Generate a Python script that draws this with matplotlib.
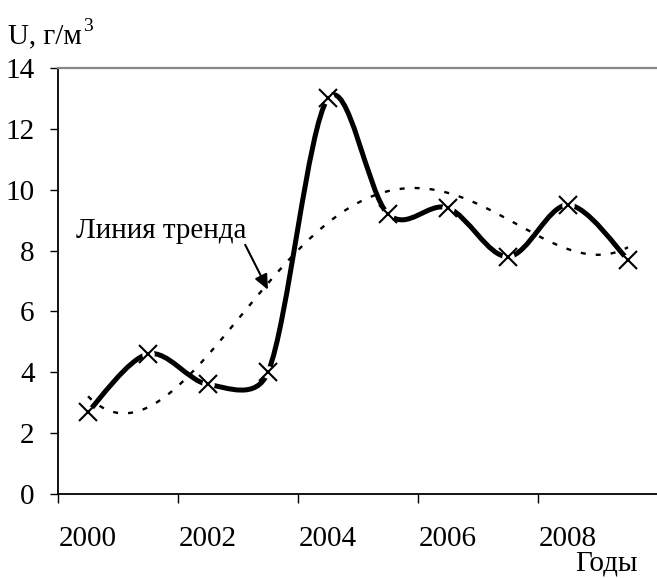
import numpy as np
import matplotlib
matplotlib.use("Agg")
import matplotlib.pyplot as plt
from matplotlib.path import Path
from matplotlib.patches import PathPatch

years = ["2000", "2001", "2002", "2003", "2004", "2005", "2006", "2007", "2008", "2009"]
values = [2.7, 4.6, 3.6, 4.0, 13.0, 9.2, 9.4, 7.8, 9.5, 7.7]
trend_degree = 4
y_ticks = [0, 2, 4, 6, 8, 10, 12, 14]
label_years = ["2000", "2002", "2004", "2006", "2008"]

plt.rcParams['font.family'] = ['Liberation Serif', 'DejaVu Serif']
plt.rcParams['lines.scale_dashes'] = False

W, H = 657, 578
fig = plt.figure(figsize=(W / 100, H / 100), dpi=100)
ax = fig.add_axes([58 / W, (H - 494) / H, 600 / W, 426 / H])
ax.set_xlim(0.5, 10.5)
ax.set_ylim(0, 14)

x = np.arange(1, len(values) + 1, dtype=float)
y = np.array(values)

# Excel-like smoothed line: cubic Bezier with tension 1/6, limited in pixel space
P = np.column_stack([x, y])
Pd = ax.transData.transform(P)
n = len(P)
verts = [tuple(P[0])]
codes = [Path.MOVETO]
for i in range(n - 1):
    i0, i1, i2, i3 = max(i - 1, 0), i, i + 1, min(i + 2, n - 1)
    d02 = np.linalg.norm(Pd[i2] - Pd[i0])
    d12 = np.linalg.norm(Pd[i2] - Pd[i1])
    d13 = np.linalg.norm(Pd[i3] - Pd[i1])
    f1 = 1 / 6 if d02 == 0 else min(1 / 6, d12 / (2 * d02))
    f2 = 1 / 6 if d13 == 0 else min(1 / 6, d12 / (2 * d13))
    c1 = P[i1] + (P[i2] - P[i0]) * f1
    c2 = P[i2] - (P[i3] - P[i1]) * f2
    verts += [tuple(c1), tuple(c2), tuple(P[i2])]
    codes += [Path.CURVE4] * 3
ax.add_patch(PathPatch(Path(verts, codes), fill=False, lw=3.6, color='black',
                       capstyle='butt', joinstyle='round', zorder=3))

# polynomial trend line
xs = np.linspace(1, 10, 300)
coef = np.polyfit(x, y, trend_degree)
ax.plot(xs, np.polyval(coef, xs), color='black', lw=1.7,
        linestyle=(0, (3.6, 7.2)), zorder=2)

ax.plot(x, y, linestyle='none', marker='o', ms=9, mfc='white', mec='none', zorder=4)
ax.plot(x, y, linestyle='none', marker='x', ms=13, mew=1.5, color='black', zorder=5)

ax.set_yticks(y_ticks)
ax.set_yticklabels([str(v) for v in y_ticks])
ax.tick_params(axis='y', direction='out', length=5.8, width=1.0, pad=11, labelsize=21, color='black')

ax.set_xticks(np.arange(0.5, 11, 2))
ax.set_xticklabels([])
ax.set_xticks([1, 3, 5, 7, 9], minor=True)
ax.set_xticklabels(label_years, minor=True)
ax.tick_params(axis='x', which='major', direction='out', length=6.5, width=1.0, color='black')
ax.tick_params(axis='x', which='minor', length=0, pad=23, labelsize=21)

for s in ['left', 'bottom']:
    ax.spines[s].set_color('black')
    ax.spines[s].set_linewidth(1.3)
ax.spines['top'].set_color('#888888')
ax.spines['top'].set_linewidth(1.6)
ax.spines['right'].set_visible(False)

ax.text(0.8, 8.42, "Линия тренда", fontsize=21, ha='left', va='baseline', zorder=6)
ax.annotate("", xy=(4.0, 6.71), xytext=(3.62, 8.19),
            arrowprops=dict(arrowstyle='-|>,head_length=0.9,head_width=0.4', lw=1.5,
                            color='black', shrinkA=0, shrinkB=0, mutation_scale=10))

t = fig.text(8 / W, 1 - 43 / H, "U, г/м", fontsize=21, ha='left', va='baseline')
fig.canvas.draw()
bb = t.get_window_extent()
fig.text(bb.x1 / W + 1 / W, 1 - 31 / H, "3", fontsize=14, ha='left', va='baseline')
fig.text(575 / W, 1 - 571 / H, "Годы", fontsize=21, ha='left', va='baseline')

fig.savefig("out.png", dpi=100)
